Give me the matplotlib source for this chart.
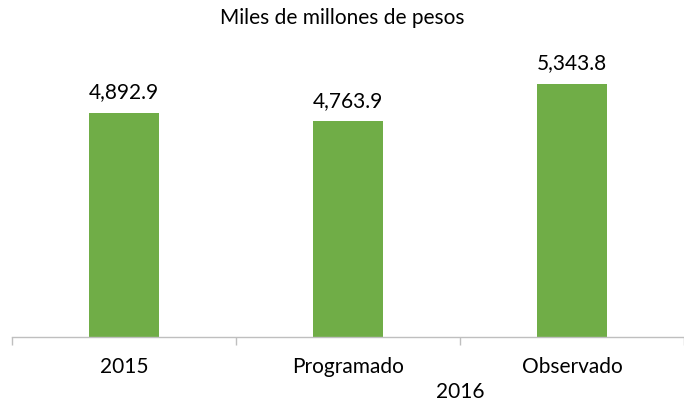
import matplotlib
matplotlib.use("Agg")
import matplotlib.pyplot as plt

categories = ["2015", "Programado", "Observado"]
values = [4892.9, 4763.9, 5343.8]
value_labels = ["4,892.9", "4,763.9", "5,343.8"]
group_label = "2016"
title = "Miles de millones de pesos"

GREEN = "#70AD47"
GRID = "#BFBFBF"
FS = 15
plt.rcParams["font.family"] = ["Lato", "DejaVu Sans"]

fig = plt.figure(figsize=(6.84, 4.01), dpi=100)
ax = fig.add_axes([12 / 684, (401 - 337) / 401, 672 / 684, 297 / 401])
x = list(range(len(categories)))
ax.bar(x, values, width=0.3125, color=GREEN)
ax.set_xlim(-0.5, 2.5)
ax.set_ylim(1393, 1393 + 297 / 0.064)

for xi, v, lab in zip(x, values, value_labels):
    ax.annotate(lab, (xi, v), xytext=(0, 10.5), textcoords="offset points",
                ha="center", va="baseline", fontsize=FS, color="#000000")

for s in ["top", "right", "left"]:
    ax.spines[s].set_visible(False)
ax.spines["bottom"].set_color(GRID)
ax.spines["bottom"].set_linewidth(1.0)
ax.set_yticks([])
ax.set_xticks([-0.5, 0.5, 1.5, 2.5])
ax.set_xticklabels([])
ax.tick_params(axis="x", direction="out", length=6, color=GRID, width=1.0)

for xi, c in zip(x, categories):
    ax.text(xi, -0.120, c, transform=ax.get_xaxis_transform(), ha="center", va="baseline", fontsize=FS)
ax.text(1.5, -0.2044, group_label, transform=ax.get_xaxis_transform(), ha="center", va="baseline", fontsize=FS)

fig.text(0.5, 1 - 24.5 / 401, title, ha="center", va="baseline", fontsize=FS)

fig.savefig("out.png", dpi=100)
